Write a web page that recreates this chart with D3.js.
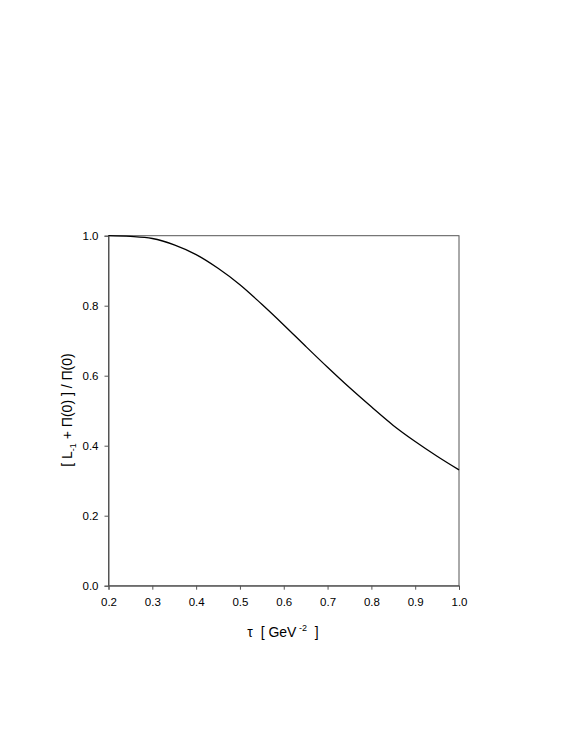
<!DOCTYPE html>
<html><head><meta charset="utf-8">
<script src="https://cdn.jsdelivr.net/npm/d3@7"></script>
<style>body{margin:0;background:#fff}svg{display:block}text{font-family:"Liberation Sans",Arial,sans-serif;white-space:pre}</style>
</head><body>
<script>
const tau = [0.20,0.25,0.30,0.35,0.40,0.45,0.50,0.55,0.60,0.65,0.70,0.75,0.80,0.85,0.90,0.95,1.00];
const ratio = [1.000,0.998,0.992,0.974,0.946,0.907,0.860,0.804,0.745,0.684,0.624,0.566,0.511,0.458,0.412,0.370,0.331];
const xTicks = [0.2,0.3,0.4,0.5,0.6,0.7,0.8,0.9,1.0];
const yTicks = [0.0,0.2,0.4,0.6,0.8,1.0];

const W=575,H=747;
const m={left:108.5,right:459,top:235.7,bottom:585.7};
const svg=d3.select("body").append("svg").attr("width",W).attr("height",H);
const x=d3.scaleLinear().domain([0.2,1.0]).range([m.left,m.right]);
const y=d3.scaleLinear().domain([0,1]).range([m.bottom,m.top]);

svg.append("rect").attr("x",m.left).attr("y",m.top).attr("width",m.right-m.left).attr("height",m.bottom-m.top)
  .attr("fill","none").attr("stroke","#555").attr("stroke-width",1);

const gx=svg.append("g").attr("transform",`translate(0,${m.bottom})`)
  .call(d3.axisBottom(x).tickValues(xTicks).tickFormat(d3.format(".1f")).tickSize(4).tickPadding(8));
const gy=svg.append("g").attr("transform",`translate(${m.left},0)`)
  .call(d3.axisLeft(y).tickValues(yTicks).tickFormat(d3.format(".1f")).tickSize(4).tickPadding(6));
[gx,gy].forEach(g=>{
  g.select(".domain").attr("stroke","#555");
  g.selectAll(".tick line").attr("stroke","#555");
  g.selectAll(".tick text").attr("font-size","11.5px").attr("fill","#000").attr("font-family","'Liberation Sans',Arial,sans-serif");
});

const line=d3.line().x((d,i)=>x(tau[i])).y(d=>y(d)).curve(d3.curveCatmullRom.alpha(0.5));
svg.append("path").datum(ratio).attr("d",line).attr("fill","none").attr("stroke","#000").attr("stroke-width",1.3);

const xt=svg.append("text").attr("x",283).attr("y",637).attr("text-anchor","middle").attr("font-size","14px");
xt.append("tspan").text("τ  [ GeV");
xt.append("tspan").attr("font-size","9px").attr("dy",-6).text(" -2");
xt.append("tspan").attr("dy",6).text("  ]");

const yt=svg.append("text").attr("transform",`translate(72,410) rotate(-90)`).attr("text-anchor","middle").attr("font-size","14px");
yt.append("tspan").text("[ L");
yt.append("tspan").attr("font-size","9px").attr("dy",4).text("-1");
yt.append("tspan").attr("dy",-4).text(" + Π(0) ] / Π(0)");
</script>
</body></html>
